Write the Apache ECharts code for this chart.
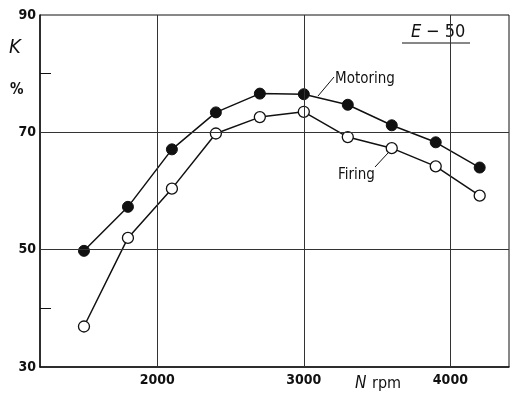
<!DOCTYPE html>
<html>
<head>
<meta charset="utf-8">
<script src="https://cdn.jsdelivr.net/npm/echarts@6.0.0/dist/echarts.min.js"></script>
<style>
  html, body { margin: 0; padding: 0; background: #fff; }
  #chart { width: 511px; height: 402px; }
</style>
</head>
<body>
<div id="chart"></div>
<script>
// Engine speed (rpm) and K (%) for the E-50 engine
const rpm      = [1500, 1800, 2100, 2400, 2700, 3000, 3300, 3600, 3900, 4200];
const motoring = [49.8, 57.3, 67.1, 73.4, 76.6, 76.5, 74.7, 71.2, 68.3, 64.0];
const firing   = [36.9, 52.0, 60.4, 69.8, 72.6, 73.5, 69.2, 67.3, 64.2, 59.2];

// Axis ticks and grid
const xTickLabels = [2000, 3000, 4000];
const yTickLabels = [30, 50, 70, 90];
const yMinorTicks = [40, 80];
const xGridLines  = [2000, 3000, 4000];
const yGridLines  = [50, 70];

const FONT = "'DejaVu Sans Condensed', 'Liberation Sans Narrow', sans-serif";
const INK = '#111';

const chart = echarts.init(document.getElementById('chart'), null, { renderer: 'canvas' });

const pairs = (ys) => rpm.map((x, i) => [x, ys[i]]);

chart.setOption({
  animation: false,
  backgroundColor: '#fff',
  grid: {
    left: 40, right: 2, top: 15, bottom: 35,
    show: true, borderColor: INK, borderWidth: 1, backgroundColor: 'transparent'
  },
  xAxis: {
    type: 'value', min: 1200, max: 4400,
    axisLine: { show: true, lineStyle: { color: INK, width: 1.5 } },
    axisTick: { show: false },
    splitLine: { show: false },
    axisLabel: {
      customValues: xTickLabels, margin: 6, formatter: v => String(v),
      color: INK, fontFamily: FONT, fontSize: 14, fontWeight: 'bold'
    }
  },
  yAxis: {
    type: 'value', min: 30, max: 90,
    axisLine: { show: true, lineStyle: { color: INK, width: 1.5 } },
    axisTick: {
      show: true, inside: true, length: 11, customValues: yMinorTicks,
      lineStyle: { color: INK, width: 1 }
    },
    splitLine: { show: false },
    axisLabel: {
      customValues: yTickLabels, margin: 4, formatter: v => String(v),
      color: INK, fontFamily: FONT, fontSize: 14, fontWeight: 'bold'
    }
  },
  series: [
    {
      // grid lines, kept beneath the data
      type: 'line', data: [], z: 1, silent: true,
      markLine: {
        silent: true, symbol: 'none', label: { show: false },
        lineStyle: { color: '#333', width: 1, type: 'solid' },
        data: xGridLines.map(v => ({ xAxis: v })).concat(yGridLines.map(v => ({ yAxis: v })))
      }
    },
    {
      name: 'Motoring', type: 'line', data: pairs(motoring), z: 3,
      symbol: 'circle', symbolSize: 11,
      lineStyle: { color: INK, width: 1.5 },
      itemStyle: { color: INK, borderColor: INK, borderWidth: 1 }
    },
    {
      name: 'Firing', type: 'line', data: pairs(firing), z: 3,
      symbol: 'circle', symbolSize: 11,
      lineStyle: { color: INK, width: 1.5 },
      itemStyle: { color: '#fff', borderColor: INK, borderWidth: 1.3 }
    }
  ],
  graphic: [
    { type: 'text', left: 9, top: 38, style: { text: 'K', font: 'italic 20px ' + FONT, fill: INK } },
    { type: 'text', left: 10, top: 83, style: { text: '%', font: 'bold 15px ' + FONT, fill: INK } },
    { type: 'text', left: 411, top: 23, style: { text: 'E', font: 'italic 18px ' + FONT, fill: INK } },
    { type: 'text', left: 426, top: 23, style: { text: '\u2212 50', font: '18px ' + FONT, fill: INK } },
    { type: 'line', shape: { x1: 402, y1: 43, x2: 470, y2: 43 }, style: { stroke: INK, lineWidth: 1.2 } },
    { type: 'text', left: 335, top: 72, style: { text: 'Motoring', font: '15px ' + FONT, fill: INK } },
    { type: 'line', shape: { x1: 318, y1: 96, x2: 334, y2: 77 }, style: { stroke: INK, lineWidth: 1 } },
    { type: 'text', left: 338, top: 168, style: { text: 'Firing', font: '15px ' + FONT, fill: INK } },
    { type: 'line', shape: { x1: 375, y1: 167, x2: 388, y2: 153 }, style: { stroke: INK, lineWidth: 1 } },
    { type: 'text', left: 355, top: 375, style: { text: 'N', font: 'italic 17px ' + FONT, fill: INK } },
    { type: 'text', left: 372, top: 376, style: { text: 'rpm', font: '16px ' + FONT, fill: INK } }
  ]
});
</script>
</body>
</html>
